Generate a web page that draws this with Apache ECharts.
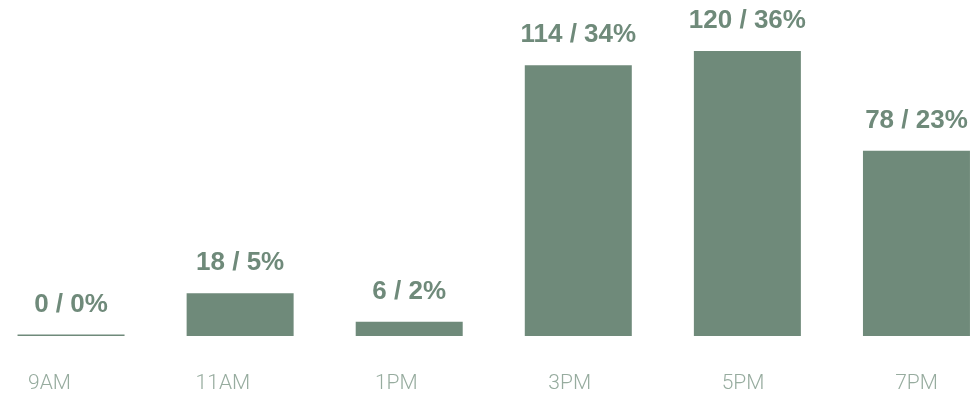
<!DOCTYPE html>
<html><head><meta charset="utf-8">
<script src="https://cdn.jsdelivr.net/npm/echarts@6/dist/echarts.min.js"></script>
<style>html,body{margin:0;padding:0;background:#fff}#c{width:978px;height:395px}</style>
</head><body><div id="c"></div>
<script>
const categories = ['9AM','11AM','1PM','3PM','5PM','7PM'];
const counts = [0, 18, 6, 114, 120, 78];
const percents = [0, 5, 2, 34, 36, 23];

const chart = echarts.init(document.getElementById('c'), null, {renderer:'canvas'});
chart.setOption({
  animation: false,
  grid: [
    {left: -13.5, right: -23, top: 51, bottom: 59, outerBoundsMode: 'none', containLabel: false},
    {left: -37.2, right: -25.2, top: 51, bottom: 59, outerBoundsMode: 'none', containLabel: false}
  ],
  xAxis: [
    {gridIndex: 0, type: 'category', data: categories, axisLine:{show:false}, axisTick:{show:false}, axisLabel:{show:false}},
    {gridIndex: 1, type: 'category', data: categories, axisLine:{show:false}, axisTick:{show:false},
     axisLabel:{color:'#97ac9f', fontSize:21, fontFamily:'Roboto', fontWeight:300, margin:37}}
  ],
  yAxis: [
    {gridIndex: 0, type:'value', min:0, max:120, show:false},
    {gridIndex: 1, type:'value', min:0, max:120, show:false}
  ],
  series: [{
    type: 'bar',
    xAxisIndex: 0, yAxisIndex: 0,
    data: counts,
    barWidth: 107,
    barMinHeight: 1.5,
    itemStyle: {color: '#6f8a7a'},
    label: {
      show: true, position: 'top', distance: 17,
      color: '#6f8a7a', fontSize: 26, fontWeight: 'bold', fontFamily: 'Liberation Sans',
      formatter: p => counts[p.dataIndex] + ' / ' + percents[p.dataIndex] + '%'
    }
  }]
});
</script></body></html>
